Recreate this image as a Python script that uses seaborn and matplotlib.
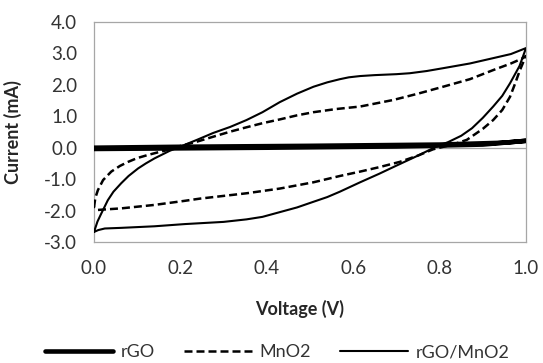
import pandas as pd
import matplotlib
matplotlib.use("Agg")
import matplotlib.pyplot as plt
import seaborn as sns

# Cyclic voltammetry loops (forward sweep then reverse sweep)
rgo_v = [0.0, 0.2, 0.5, 0.8, 0.95, 1.0, 0.9, 0.7, 0.4, 0.0]
rgo_i = [0.0, 0.03, 0.06, 0.1, 0.16, 0.22, 0.1, 0.04, 0.0, -0.04]

mno2_v = [0.0, 0.003, 0.009, 0.021, 0.04, 0.06, 0.079, 0.1, 0.125, 0.15, 0.171,
          0.199, 0.24, 0.276, 0.315, 0.353, 0.39, 0.43, 0.47, 0.508, 0.56,
          0.616, 0.693, 0.75, 0.808, 0.87, 0.924, 0.965, 0.993, 1.0,
          0.993, 0.986, 0.975, 0.963, 0.945, 0.924, 0.90, 0.863, 0.83,
          0.785, 0.75, 0.708, 0.66, 0.616, 0.569, 0.508, 0.43, 0.353,
          0.245, 0.21, 0.14, 0.063, 0.03, 0.009, 0.0]
mno2_i = [-1.9, -1.6, -1.35, -1.03, -0.76, -0.58, -0.45, -0.33, -0.23, -0.14,
          -0.07, 0.05, 0.2, 0.35, 0.51, 0.65, 0.78, 0.9, 1.03, 1.13, 1.23,
          1.31, 1.52, 1.72, 1.94, 2.18, 2.47, 2.68, 2.85, 2.92,
          2.7, 2.47, 2.05, 1.62, 1.2, 0.88, 0.6, 0.25, 0.1,
          -0.05, -0.25, -0.45, -0.62, -0.76, -0.9, -1.1, -1.3, -1.45,
          -1.62, -1.69, -1.82, -1.93, -1.96, -1.98, -1.9]

comp_v = [0.0, 0.008, 0.017, 0.032, 0.045, 0.063, 0.08, 0.102, 0.12, 0.14,
          0.175, 0.199, 0.24, 0.276, 0.315, 0.353, 0.39, 0.43, 0.47, 0.508,
          0.54, 0.569, 0.59, 0.616, 0.65, 0.70, 0.731, 0.77, 0.808, 0.87,
          0.924, 0.965, 1.0,
          0.985, 0.963, 0.945, 0.924, 0.90, 0.875, 0.85, 0.82, 0.79, 0.75,
          0.70, 0.66, 0.616, 0.569, 0.54, 0.508, 0.47, 0.43, 0.39, 0.353,
          0.30, 0.21, 0.14, 0.063, 0.025, 0.01, 0.0]
comp_i = [-2.68, -2.35, -2.09, -1.67, -1.4, -1.13, -0.9, -0.66, -0.5, -0.34,
          -0.1, 0.03, 0.26, 0.47, 0.66, 0.88, 1.13, 1.45, 1.72, 1.94,
          2.08, 2.18, 2.24, 2.28, 2.31, 2.34, 2.37, 2.44, 2.53, 2.68,
          2.85, 2.98, 3.17,
          2.6, 2.05, 1.65, 1.31, 0.95, 0.62, 0.38, 0.18, 0.02, -0.25,
          -0.57, -0.83, -1.1, -1.4, -1.57, -1.72, -1.9, -2.05, -2.2, -2.28,
          -2.36, -2.43, -2.5, -2.55, -2.57, -2.62, -2.68]

x_ticks = [0.0, 0.2, 0.4, 0.6, 0.8, 1.0]
y_ticks = [-3.0, -2.0, -1.0, 0.0, 1.0, 2.0, 3.0, 4.0]

sns.set_style("white")
plt.rcParams['font.family'] = ['Lato', 'DejaVu Sans']

fig = plt.figure(figsize=(5.43, 3.63), dpi=100)
ax = fig.add_axes([94 / 543, 1 - 242 / 363, 432 / 543, 220 / 363])

ax.axhline(0, color='#a6a6a6', lw=0.9, zorder=1)

df_rgo = pd.DataFrame({'v': rgo_v, 'i': rgo_i})
df_mno2 = pd.DataFrame({'v': mno2_v, 'i': mno2_i})
df_comp = pd.DataFrame({'v': comp_v, 'i': comp_i})

sns.lineplot(data=df_rgo, x='v', y='i', sort=False, estimator=None,
             color='black', lw=3.3, label='rGO', ax=ax, zorder=3)
sns.lineplot(data=df_mno2, x='v', y='i', sort=False, estimator=None,
             color='black', lw=1.8, ls=(0, (3.2, 1.6)),
             label='MnO2', ax=ax, zorder=3)
sns.lineplot(data=df_comp, x='v', y='i', sort=False, estimator=None,
             color='black', lw=1.5, label='rGO/MnO2', ax=ax, zorder=3)

ax.set_xlim(0, 1.0)
ax.set_ylim(-3, 4)
ax.set_xticks(x_ticks)
ax.set_yticks(y_ticks)
ax.set_xticklabels([f'{t:.1f}' for t in x_ticks])
ax.set_yticklabels([f'{t:.1f}' for t in y_ticks])
ax.tick_params(axis='both', length=0, labelsize=13.5, colors='#333333')
ax.tick_params(axis='x', pad=13)
ax.tick_params(axis='y', pad=12)

for s in ax.spines.values():
    s.set_color('#a6a6a6')
    s.set_linewidth(0.9)

ax.set_xlabel('Voltage (V)', fontsize=13, fontweight='bold', color='#262626')
ax.set_ylabel('Current (mA)', fontsize=13, fontweight='bold', color='#262626')
ax.xaxis.set_label_coords(0.475, -0.265)
ax.yaxis.set_label_coords(-0.167, 0.5)

ax.legend(loc='center', bbox_to_anchor=(277 / 543, 1 - 352 / 363),
          bbox_transform=fig.transFigure, ncol=3, frameon=False,
          fontsize=13, handlelength=3.8, handletextpad=0.4,
          columnspacing=1.6, labelcolor='#333333')

fig.savefig('out.png', dpi=100)
